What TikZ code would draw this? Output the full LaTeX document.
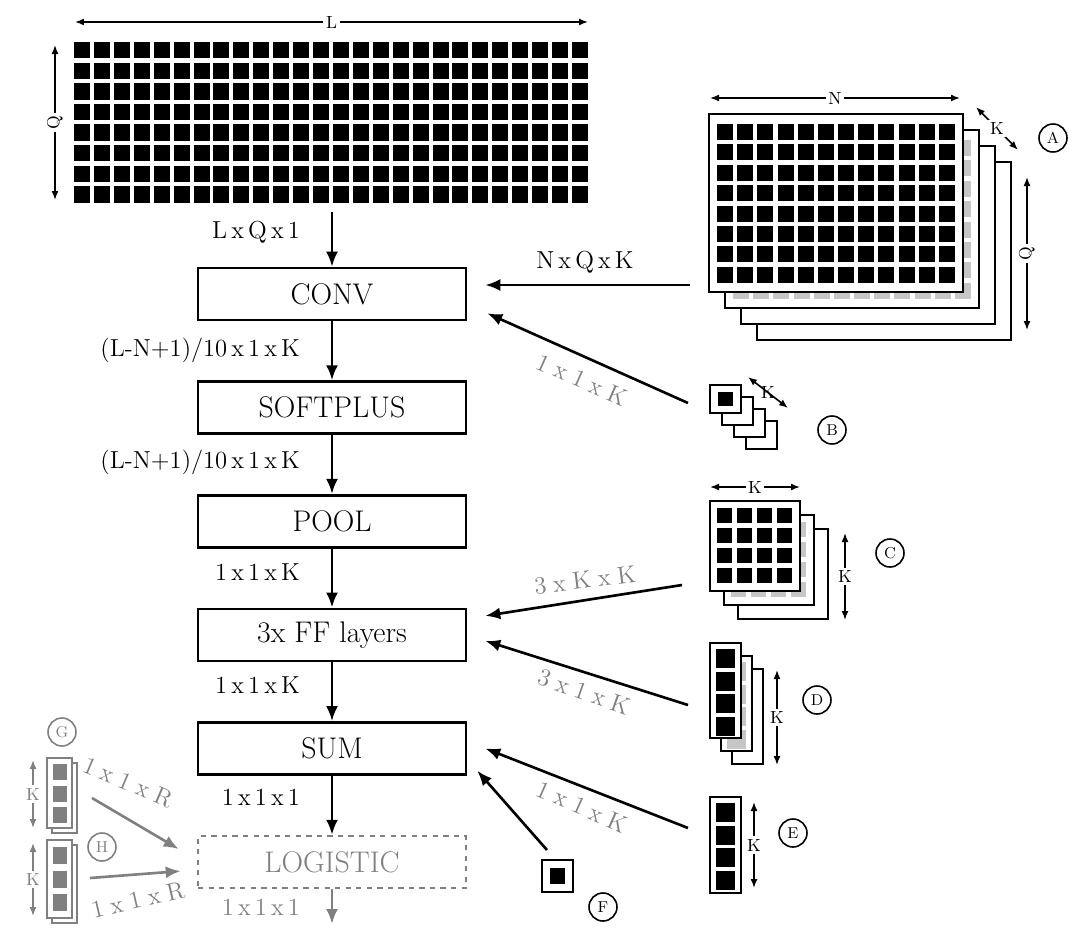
\documentclass[tikz,border=0pt]{standalone}
\usetikzlibrary{arrows.meta,positioning,calc}

\begin{document}
\begin{tikzpicture}[x=0.02cm, y=-0.02cm,
  layer/.style={draw, line width=1.5pt, minimum width=5.36cm, minimum height=1.04cm, inner sep=0pt, font=\fontsize{17}{20}\selectfont},
  sizelab/.style={anchor=east, inner sep=1pt, font=\fontsize{14}{16}\selectfont},
  wlab/.style={inner sep=1pt, text=gray, font=\fontsize{14}{16}\selectfont},
  dimtxt/.style={fill=white, inner sep=1.5pt, font=\fontsize{10}{11}\selectfont},
  tag/.style={circle, draw, line width=0.9pt, minimum size=0.56cm, inner sep=0pt, font=\fontsize{9}{10}\selectfont},
  plate/.style={draw, line width=1pt, fill=white},
  arr/.style={-{Latex[length=3mm,width=2.4mm]}, line width=1.5pt},
  dimarr/.style={{Latex[length=1.8mm,width=1.4mm]}-{Latex[length=1.8mm,width=1.4mm]}, line width=0.9pt},
  node distance=1.18cm
]
\useasboundingbox (0,0) rectangle (1069,927);

% input sequence
\foreach \i in {0,...,25}
  \foreach \j in {0,...,7}
    \fill (74+\i*19.92, 42+\j*20.6) rectangle ++(16,16.4);
\node[minimum width=10.36cm, minimum height=3.3cm, inner sep=0pt] (seq) at (332,122.5) {};
\coordinate (Lw) at (75,22);
\coordinate (Le) at (588,22);
\draw[dimarr] (Lw) -- node[dimtxt] {L} (Le);
\coordinate (Qt) at (55,45);
\coordinate (Qb) at (55,200);
\draw[dimarr] (Qt) -- node[dimtxt, rotate=90] {Q} (Qb);

% layers
\node[layer] (conv) at (332,294) {CONV};
\node[layer, below=of conv] (soft) {SOFTPLUS};
\node[layer, below=of soft] (pool) {POOL};
\node[layer, below=of pool] (ff) {3x FF layers};
\node[layer, below=of ff] (sum) {SUM};
\node[layer, below=of sum, dashed, draw=gray, text=gray] (logi) {LOGISTIC};
\coordinate (out) at (332,924);

\draw[arr, shorten <=0.14cm] (seq) -- (conv);
\draw[arr] (conv) -- (soft);
\draw[arr] (soft) -- (pool);
\draw[arr] (pool) -- (ff);
\draw[arr] (ff) -- (sum);
\draw[arr] (sum) -- (logi);
\draw[arr, gray] (logi) -- (out);

\node[sizelab] (q0) at (302,232) {L\,x\,Q\,x\,1};
\node[sizelab] (q1) at (302,350) {(L-N+1)/10\,x\,1\,x\,K};
\node[sizelab] (q2) at (302,462) {(L-N+1)/10\,x\,1\,x\,K};
\node[sizelab] (q3) at (302,572) {1\,x\,1\,x\,K};
\node[sizelab] (q4) at (302,685) {1\,x\,1\,x\,K};
\node[sizelab] (q5) at (302,797) {1\,x\,1\,x\,1};
\node[sizelab, text=gray] (q6) at (302,907) {1\,x\,1\,x\,1};

% filters A
\draw[plate] (757,162) rectangle (1011,340);
\draw[plate] (741,146) rectangle (995,324);
\draw[plate] (725,130) rectangle (979,308);
\foreach \i in {0,...,11}
  \foreach \j in {0,...,7}
    \fill[gray!45] (733+\i*20.17, 140+\j*20.4) rectangle ++(16,16);
\draw[plate] (709,114) rectangle (963,292);
\foreach \i in {0,...,11}
  \foreach \j in {0,...,7}
    \fill (717+\i*20.17, 124+\j*20.4) rectangle ++(16,16);
\coordinate (Nw) at (710,98);
\coordinate (Ne) at (960,98);
\draw[dimarr] (Nw) -- node[dimtxt] {N} (Ne);
\coordinate (Ka) at (976,107);
\coordinate (Kb) at (1018,150);
\draw[dimarr] (Ka) -- node[dimtxt] {K} (Kb);
\coordinate (Qa) at (1027,177);
\coordinate (Qz) at (1027,330);
\draw[dimarr] (Qa) -- node[dimtxt, rotate=90] {Q} (Qz);
\node[tag] (tA) at (1053,138) {A};
\coordinate (A) at (690,285);

% biases B
\foreach \k in {3,2,1}
  \draw[plate] (710+\k*12, 385+\k*12) rectangle ++(31,28);
\draw[plate] (710,385) rectangle ++(31,28);
\fill (718,392) rectangle ++(15,14);
\coordinate (KBa) at (748,377);
\coordinate (KBb) at (788,408);
\draw[dimarr] (KBa) -- node[dimtxt, fill=none] {K} (KBb);
\node[tag] (tB) at (832,430) {B};
\coordinate (B) at (688,403);

% weights C
\draw[plate] (738,529) rectangle ++(90,90);
\draw[plate] (724,515) rectangle ++(90,90);
\foreach \i in {0,...,3}
  \foreach \j in {0,...,3}
    \fill[gray!45] (731+\i*20, 522+\j*20) rectangle ++(15,15);
\draw[plate] (710,501) rectangle ++(90,90);
\foreach \i in {0,...,3}
  \foreach \j in {0,...,3}
    \fill (717+\i*20, 508+\j*20) rectangle ++(15,15);
\coordinate (KCw) at (710,487);
\coordinate (KCe) at (800,487);
\draw[dimarr] (KCw) -- node[dimtxt] {K} (KCe);
\coordinate (KCt) at (845,533);
\coordinate (KCb) at (845,620);
\draw[dimarr] (KCt) -- node[dimtxt] {K} (KCb);
\node[tag] (tC) at (890,553) {C};
\coordinate (C) at (682,585);

% biases D
\draw[plate] (732,669) rectangle ++(31,95);
\draw[plate] (721,656) rectangle ++(31,95);
\foreach \j in {0,...,3}
  \fill[gray!45] (727, 662+\j*22.5) rectangle ++(19,19);
\draw[plate] (710,643) rectangle ++(31,95);
\foreach \j in {0,...,3}
  \fill (716, 649+\j*22.5) rectangle ++(19,19);
\coordinate (KDt) at (777,670);
\coordinate (KDb) at (777,765);
\draw[dimarr] (KDt) -- node[dimtxt] {K} (KDb);
\node[tag] (tD) at (817,700) {D};
\coordinate (D) at (688,705);

% weights E
\draw[plate] (710,797) rectangle ++(31,96);
\foreach \j in {0,...,3}
  \fill (716, 803+\j*22.5) rectangle ++(19,19);
\coordinate (KEt) at (754,802);
\coordinate (KEb) at (754,888);
\draw[dimarr] (KEt) -- node[dimtxt] {K} (KEb);
\node[tag] (tE) at (793,833) {E};
\coordinate (E) at (688,828);

% bias F
\draw[plate, line width=1.2pt] (542,860) rectangle (573,892);
\fill (550,868) rectangle (565,884);
\node[tag] (tF) at (603,907) {F};
\coordinate (F) at (547,850);

% logistic weights G, H
\draw[plate, draw=gray] (52,763) rectangle ++(25,70);
\draw[plate, draw=gray] (47,758) rectangle ++(25,70);
\foreach \j in {0,...,2}
  \fill[gray] (53, 764+\j*21.5) rectangle ++(14,16);
\coordinate (KGt) at (33,760);
\coordinate (KGb) at (33,828);
\draw[dimarr, gray] (KGt) -- node[dimtxt, text=gray] {K} (KGb);
\node[tag, draw=gray, text=gray] (tG) at (62,732) {G};
\coordinate (G) at (92,798);

\draw[plate, draw=gray] (52,845) rectangle ++(25,78);
\draw[plate, draw=gray] (47,840) rectangle ++(25,78);
\foreach \j in {0,...,2}
  \fill[gray] (53, 847+\j*23.5) rectangle ++(14,17);
\coordinate (KHt) at (33,843);
\coordinate (KHb) at (33,916);
\draw[dimarr, gray] (KHt) -- node[dimtxt, text=gray] {K} (KHb);
\node[tag, draw=gray, text=gray] (tH) at (102,847) {H};
\coordinate (H) at (90,878);

% parameter connectors
\draw[arr] (A) -- ($(conv.east)+(18,-9)$);
\draw[arr] (B) -- ($(conv.south east)+(20,-8)$);
\draw[arr] (C) -- ($(ff.east)+(18,-19)$);
\draw[arr] (D) -- ($(ff.east)+(18,6)$);
\draw[arr] (E) -- ($(sum.east)+(18,0)$);
\draw[arr] (F) -- ($(sum.south east)+(10,-5)$);
\draw[arr, gray] (G) -- ($(logi.west)+(-18,-13)$);
\draw[arr, gray] (H) -- ($(logi.west)+(-16,9)$);

\node[font=\fontsize{14}{16}\selectfont] (wA) at (585,262) {N\,x\,Q\,x\,K};
\node[wlab, rotate=-24] (wB) at (582,380) {1\;x\;1\;x\;K};
\node[wlab, rotate=7] (wC) at (585,580) {3\;x\;K\;x\;K};
\node[wlab, rotate=-19.5] (wD) at (584,692) {3\;x\;1\;x\;K};
\node[wlab, rotate=-24] (wE) at (582,807) {1\;x\;1\;x\;K};
\node[wlab, rotate=-23] (wG) at (128,782) {1\;x\;1\;x\;R};
\node[wlab, rotate=13] (wH) at (138,900) {1\;x\;1\;x\;R};

\end{tikzpicture}
\end{document}
